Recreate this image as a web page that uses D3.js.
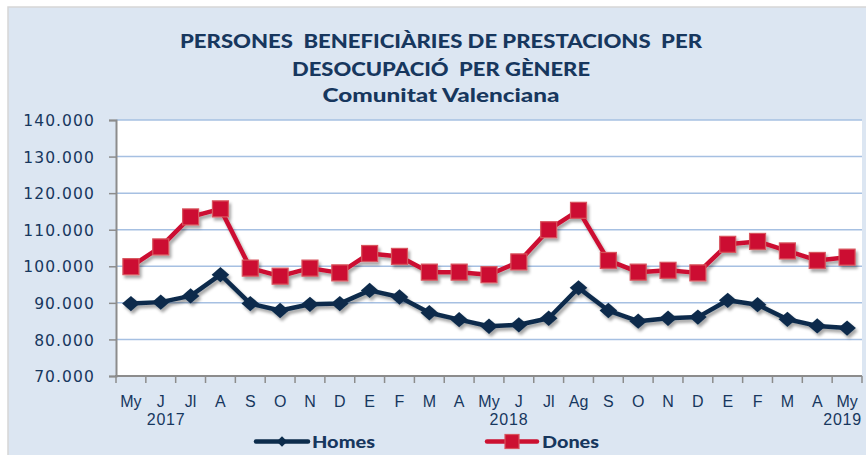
<!DOCTYPE html>
<html><head><meta charset="utf-8">
<script src="https://cdn.jsdelivr.net/npm/d3@7/dist/d3.min.js"></script>
<style>
html,body{margin:0;padding:0;background:#fff;}
svg{display:block;}
</style></head>
<body>
<svg id="chart" width="866" height="455"></svg>
<script>
const months = ["My","J","Jl","A","S","O","N","D","E","F","M","A","My","J","Jl","Ag","S","O","N","D","E","F","M","A","My"];
const homes = [89800,90200,91900,97700,89800,87900,89600,89800,93400,91600,87300,85400,83600,84000,85800,94100,87900,85000,85800,86100,90700,89500,85500,83700,83100];
const dones = [99900,105300,113500,115700,99500,97300,99500,98200,103500,102700,98400,98400,97700,101200,110000,115300,101600,98400,98900,98200,106000,106800,104200,101600,102500];
const yTicks = [70000,80000,90000,100000,110000,120000,130000,140000];
const years = ["2017","2018","2019"];
const yearPos = [1.68,13.17,25];
const titleLines = ["PERSONES  BENEFICIÀRIES DE PRESTACIONS  PER","DESOCUPACIÓ  PER GÈNERE","Comunitat Valenciana"];
const seriesNames = ["Homes","Dones"];

(function(){
const svg = d3.select("#chart");
const W = 866, H = 455;
const navy = "#0c2c4c", red = "#cc1131", textCol = "#17375e";

svg.append("rect").attr("x",8).attr("y",7).attr("width",W).attr("height",H)
  .attr("fill","#dce6f2").attr("stroke","#d6d6d6").attr("stroke-width",1.5);

const defs = svg.append("defs");
const f = defs.append("filter").attr("id","sh").attr("x","-10%").attr("y","-10%").attr("width","120%").attr("height","130%");
f.append("feDropShadow").attr("dx",2).attr("dy",3).attr("stdDeviation",1.6).attr("flood-color","#000").attr("flood-opacity",0.35);

const pL = 116, pR = 862, pT = 120, pB = 376;
const x = d3.scaleBand().domain(d3.range(months.length)).range([pL,pR]).padding(0);
const xi = d3.scaleLinear().domain([0,months.length]).range([pL,pR]);
const y = d3.scaleLinear().domain([70000,140000]).range([pB,pT]);

svg.append("rect").attr("x",pL).attr("y",pT).attr("width",pR-pL).attr("height",pB-pT).attr("fill","#fff");

svg.append("g").selectAll("line").data(yTicks.slice(1)).join("line")
  .attr("x1",pL).attr("x2",pR).attr("y1",d=>y(d)).attr("y2",d=>y(d))
  .attr("stroke","#a6c0e2").attr("stroke-width",1.5);

const fmt = d => d3.format(",")(d).replace(/,/g,".");
const yAxis = d3.axisLeft(y).tickValues(yTicks).tickFormat(fmt).tickSize(7).tickPadding(14);
const gy = svg.append("g").attr("transform",`translate(${pL},0)`).call(yAxis);
gy.select(".domain").attr("stroke","#8c8c8c").attr("stroke-width",2);
gy.selectAll(".tick line").attr("stroke","#8c8c8c").attr("stroke-width",1.5);
gy.selectAll(".tick text").attr("fill",textCol).style("font-family","DejaVu Sans").style("font-size","15.5px")
  .style("letter-spacing","1.1px").attr("dy","0.36em");

const gx = svg.append("g").attr("transform",`translate(0,${pB})`);
gx.append("line").attr("x1",pL-1).attr("x2",pR).attr("y1",0).attr("y2",0).attr("stroke","#8c8c8c").attr("stroke-width",2);
gx.selectAll("line.t").data(d3.range(months.length+1)).join("line").attr("class","t")
  .attr("x1",d=>xi(d)).attr("x2",d=>xi(d)).attr("y1",0).attr("y2",7).attr("stroke","#8c8c8c").attr("stroke-width",1.5);
gx.selectAll("text.m").data(months).join("text").attr("class","m")
  .attr("x",(d,i)=>x(i)+x.bandwidth()/2).attr("y",31).attr("text-anchor","middle")
  .attr("fill",textCol).style("font-family","Liberation Sans").style("font-size","16px").text(d=>d);
gx.selectAll("text.y").data(years).join("text").attr("class","y")
  .attr("x",(d,i)=> xi(yearPos[i]))
  .attr("y",49).attr("text-anchor",(d,i)=> i===years.length-1 ? "end":"middle")
  .attr("fill",textCol).style("font-family","Liberation Sans").style("font-size","16px").style("letter-spacing","0.8px").text(d=>d);

const line = d3.line().x((d,i)=>x(i)+x.bandwidth()/2).y(d=>y(d));
const gH = svg.append("g").attr("filter","url(#sh)");
gH.append("path").datum(homes).attr("d",line).attr("fill","none").attr("stroke",navy).attr("stroke-width",4.5).attr("stroke-linejoin","round");
gH.selectAll("path.dm").data(homes).join("path").attr("class","dm")
  .attr("d",d3.symbol(d3.symbolDiamond2,150)())
  .attr("transform",(d,i)=>`translate(${x(i)+x.bandwidth()/2},${y(d)}) scale(1.15,1)`).attr("fill",navy);
const gD = svg.append("g").attr("filter","url(#sh)");
gD.append("path").datum(dones).attr("d",line).attr("fill","none").attr("stroke",red).attr("stroke-width",4.5).attr("stroke-linejoin","round");
gD.selectAll("rect.sq").data(dones).join("rect").attr("class","sq")
  .attr("x",(d,i)=>x(i)+x.bandwidth()/2-8).attr("y",d=>y(d)-8).attr("width",16).attr("height",16)
  .attr("fill",red).attr("stroke","#d8545e").attr("stroke-width",1.2);

const tYs = [48,76,102], tW = [522,298,237];
svg.selectAll("text.title").data(titleLines).join("text").attr("class","title")
  .attr("x",441).attr("y",(d,i)=>tYs[i]).attr("text-anchor","middle").style("white-space","pre")
  .attr("fill",textCol).style("font-family","Lato").style("font-weight","900").style("font-size","18.5px")
  .attr("textLength",(d,i)=>tW[i]).attr("lengthAdjust","spacingAndGlyphs").text(d=>d);

const lg = svg.append("g");
const ly = 441.5;
lg.append("line").attr("x1",256).attr("x2",308).attr("y1",ly).attr("y2",ly).attr("stroke",navy).attr("stroke-width",4.5).attr("stroke-linecap","round");
lg.append("path").attr("d",d3.symbol(d3.symbolDiamond2,70)()).attr("transform",`translate(282,${ly})`).attr("fill",navy);
lg.append("text").attr("x",312).attr("y",ly+6).attr("fill",textCol).style("font-family","Lato").style("font-weight","900").style("font-size","17px")
  .attr("textLength",63).attr("lengthAdjust","spacingAndGlyphs").text(seriesNames[0]);
lg.append("line").attr("x1",487).attr("x2",537).attr("y1",ly).attr("y2",ly).attr("stroke",red).attr("stroke-width",4.5).attr("stroke-linecap","round");
lg.append("rect").attr("x",505).attr("y",ly-7).attr("width",14).attr("height",14).attr("fill",red).attr("stroke","#d8545e").attr("stroke-width",1.2);
lg.append("text").attr("x",542).attr("y",ly+6).attr("fill",textCol).style("font-family","Lato").style("font-weight","900").style("font-size","17px")
  .attr("textLength",57).attr("lengthAdjust","spacingAndGlyphs").text(seriesNames[1]);
})();
</script>
</body></html>
